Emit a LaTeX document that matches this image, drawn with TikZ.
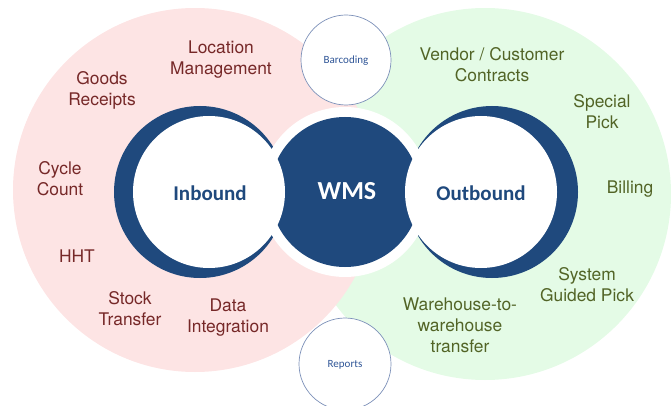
\documentclass[tikz,border=0pt]{standalone}
\usepackage{fontspec}
\setmainfont{TeX Gyre Heros}
\newfontfamily\arialfont{TeX Gyre Heros}
\newfontfamily\carlito{Carlito}
\definecolor{wmsblue}{RGB}{31,73,125}
\definecolor{pinkbg}{RGB}{253,228,228}
\definecolor{greenbg}{RGB}{228,251,230}
\definecolor{inred}{RGB}{118,40,40}
\definecolor{outgreen}{RGB}{82,100,38}
\definecolor{ringline}{RGB}{125,145,185}
\definecolor{smalltxt}{RGB}{47,85,151}
\tikzset{
  inlabel/.style={text=inred,align=center,font=\arialfont\fontsize{17.4}{21}\selectfont},
  outlabel/.style={text=outgreen,align=center,font=\arialfont\fontsize{17.4}{21}\selectfont},
  hublabel/.style={text=wmsblue,font=\carlito\bfseries\fontsize{21}{24}\selectfont},
  smallring/.style={draw=ringline,line width=0.7pt,fill=white},
  smalllabel/.style={text=smalltxt,font=\carlito\fontsize{11}{13}\selectfont}
}
\begin{document}
\begin{tikzpicture}[x=1pt,y=-1pt,line join=round,line cap=round]
		\useasboundingbox (0,0) rectangle (671,406);
		\clip (0,0) rectangle (671,406);
		% big background circles
		\fill[greenbg] (485,194) circle (186pt);
		\fill[pinkbg] (195,190) circle (182pt);
		% crescents and hub
		\fill[wmsblue] (200,192) circle (86pt);
		\fill[wmsblue] (492,192) circle (86pt);
		\fill[white] (345,192) circle (85pt);
		\fill[wmsblue] (345,192) circle (75pt);
		\fill[white] (209,192) circle (76pt);
		\fill[white] (481,192) circle (76pt);
		\draw[smallring] (346,60) circle (45pt);
		\draw[smallring] (345,364) circle (46pt);
		\node[hublabel] (inbound) at (210,193) {Inbound};
		\node[hublabel,text=white,font=\carlito\bfseries\fontsize{26}{30}\selectfont] (wms) at (347,191) {WMS};
		\node[hublabel] (outbound) at (481,193) {Outbound};
		\node[smalllabel] (barcoding) at (346,61) {Barcoding};
		\node[smalllabel] (reports) at (345,365) {Reports};
		% inbound side
		\node[inlabel] (location) at (221,59.5) {Location\\Management};
		\node[inlabel] (goods) at (102,90.5) {Goods\\Receipts};
		\node[inlabel] (cycle) at (60,178.5) {Cycle\\Count};
		\node[inlabel] (hht) at (77,256.5) {HHT};
		\node[inlabel] (stock) at (130,308.5) {Stock\\Transfer};
		\node[inlabel] (data) at (228,317.5) {Data\\Integration};
		% outbound side
		\node[outlabel] (vendor) at (492,64.5) {Vendor / Customer\\Contracts};
		\node[outlabel] (special) at (602,111.5) {Special\\Pick};
		\node[outlabel] (billing) at (630,189) {Billing};
		\node[outlabel] (guided) at (587,284.5) {System\\Guided Pick};
		\node[outlabel] (w2w) at (460,325) {Warehouse-to-\\warehouse\\transfer};
\end{tikzpicture}
\end{document}
